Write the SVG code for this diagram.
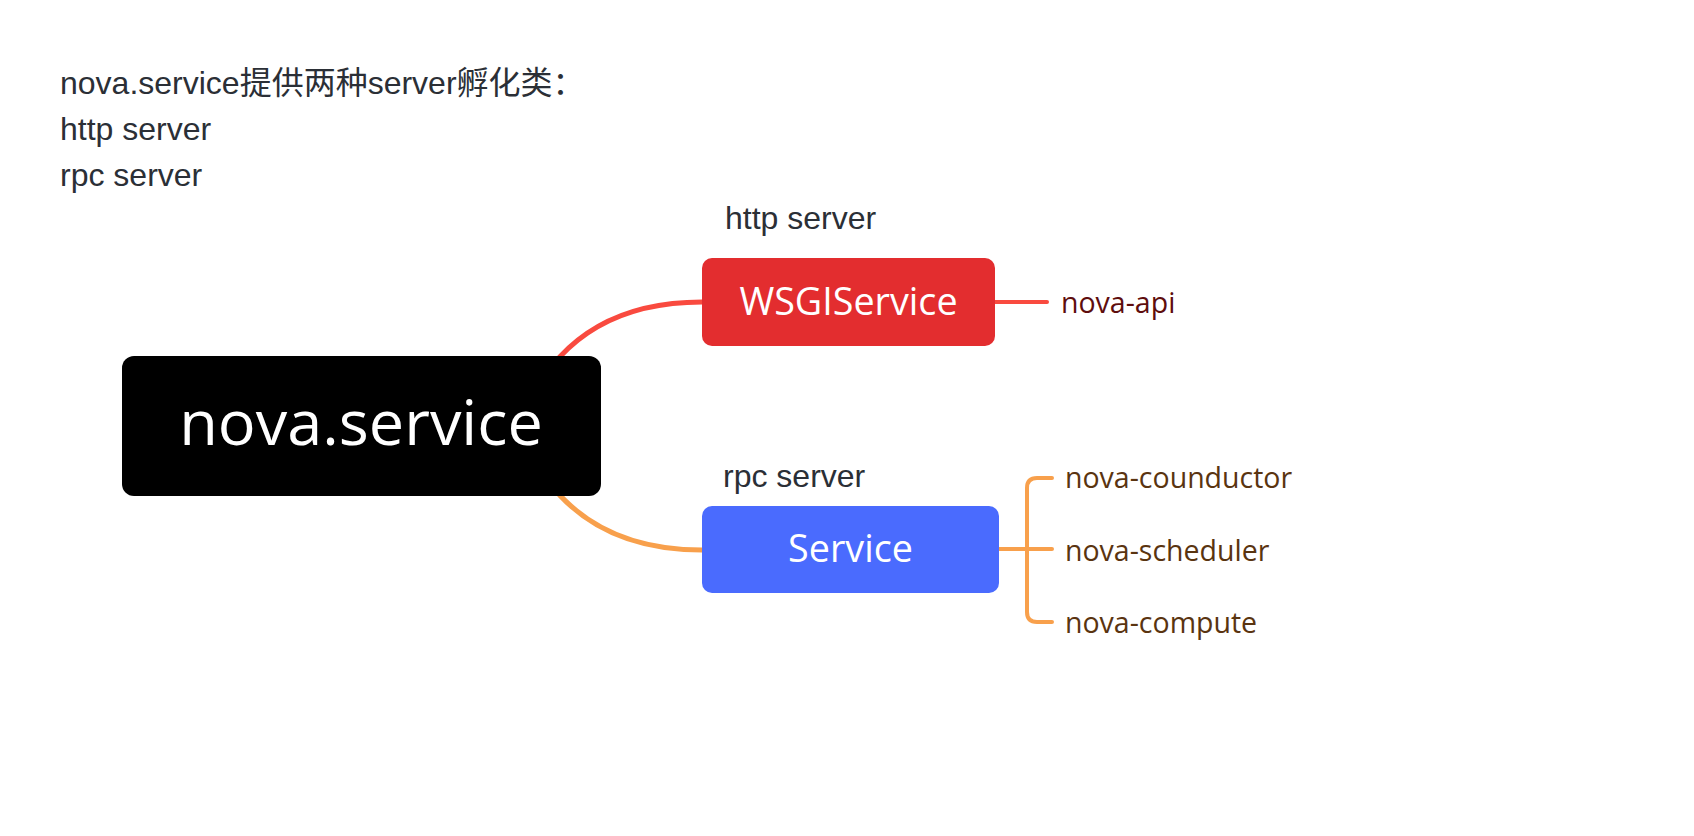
<svg xmlns="http://www.w3.org/2000/svg" width="1694" height="836" viewBox="0 0 1694 836">
<style>
.note{font-family:"Liberation Sans","Noto Sans CJK SC",sans-serif;font-size:32px;fill:#2b2f36}
.node{font-family:"Open Sans","Noto Sans",sans-serif;fill:#ffffff;text-anchor:middle}
.leaf{font-family:"Open Sans","Noto Sans",sans-serif;font-size:28.5px}
.red{fill:none;stroke:#f94a3f;stroke-linecap:round}
.orange{fill:none;stroke:#f8a04c;stroke-linecap:round}
</style>
<rect width="1694" height="836" fill="#ffffff"/>
<g id="note">
<text class="note" x="60" y="94">nova.service提供两种server孵化类：</text>
<text class="note" x="60" y="140">http server</text>
<text class="note" x="60" y="186">rpc server</text>
</g>
<g id="connectors">
<path class="red" d="M530 400 Q580 302 702 302" stroke-width="5"/>
<path class="orange" d="M530 452 Q580 550 702 550" stroke-width="5"/>
<path class="red" d="M995 302 H1047" stroke-width="4"/>
<path class="orange" d="M999 549 H1052 M1052 478 H1037 Q1027 478 1027 488 V612 Q1027 622 1037 622 H1052" stroke-width="4"/>
</g>
<g id="root">
<rect x="122" y="356" width="479" height="140" rx="12" fill="#000000"/>
<text class="node" x="361" y="445" font-size="63">nova.service</text>
</g>
<g id="label-http">
<text class="note" x="725" y="229">http server</text>
</g>
<g id="wsgiservice">
<rect x="702" y="258" width="293" height="88" rx="10" fill="#e32d2f"/>
<text class="node" x="848.5" y="315" font-size="37.7">WSGIService</text>
</g>
<g id="label-rpc">
<text class="note" x="723" y="487">rpc server</text>
</g>
<g id="service">
<rect x="702" y="506" width="297" height="87" rx="10" fill="#4a6bfe"/>
<text class="node" x="850.5" y="562" font-size="37.7">Service</text>
</g>
<g id="nova-api">
<text class="leaf" x="1061" y="313" fill="#5e0d0d">nova-api</text>
</g>
<g id="nova-counductor">
<text class="leaf" x="1065" y="488" fill="#5a3410">nova-counductor</text>
</g>
<g id="nova-scheduler">
<text class="leaf" x="1065" y="561" fill="#5a3410">nova-scheduler</text>
</g>
<g id="nova-compute">
<text class="leaf" x="1065" y="633" fill="#5a3410">nova-compute</text>
</g>
</svg>
